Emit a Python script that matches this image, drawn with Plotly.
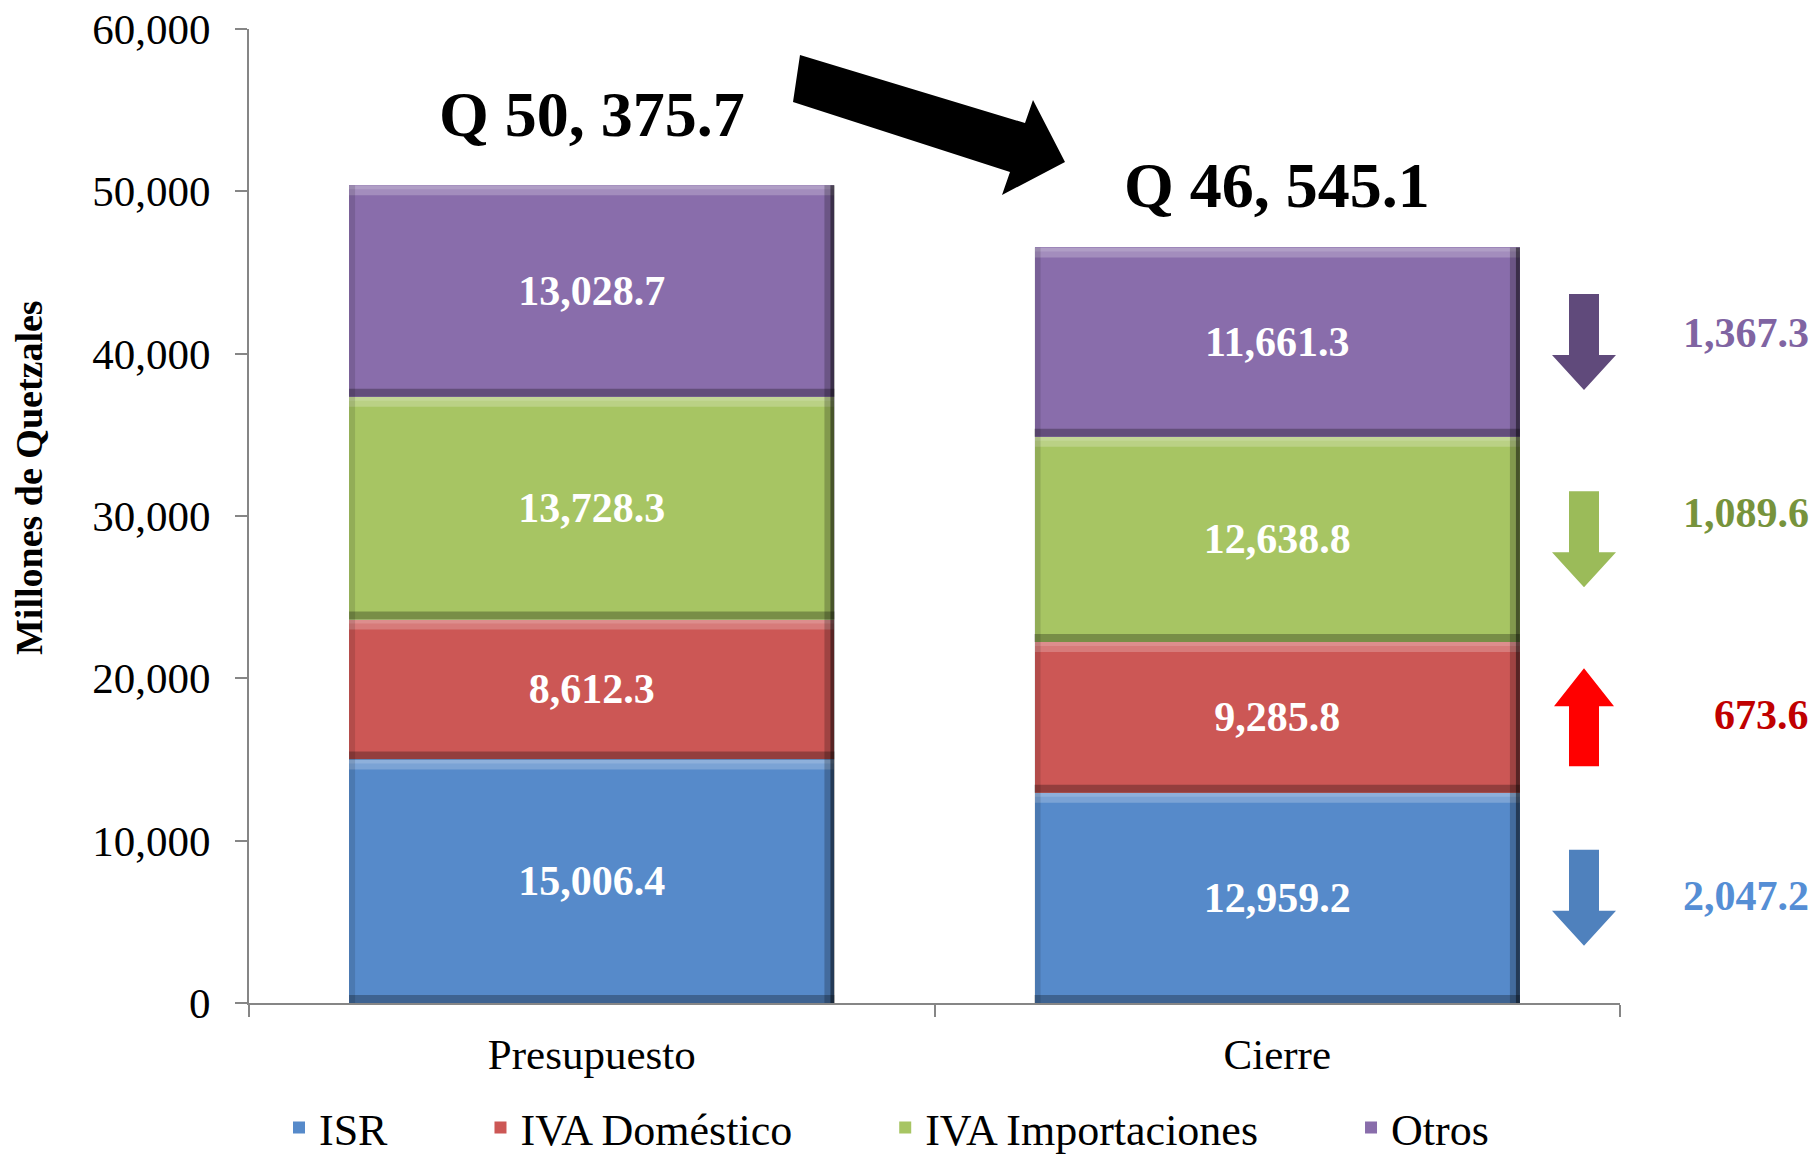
import plotly.graph_objects as go

# ---------------- data ----------------
categories = ["Presupuesto", "Cierre"]
series_names = ["ISR", "IVA Doméstico", "IVA Importaciones", "Otros"]
isr = [15006.4, 12959.2]
iva_domestico = [8612.3, 9285.8]
iva_importaciones = [13728.3, 12638.8]
otros = [13028.7, 11661.3]
# change Presupuesto -> Cierre as printed on the chart (ISR, IVA Dom., IVA Imp., Otros)
change_values = [2047.2, 673.6, 1089.6, 1367.3]
change_up = [False, True, False, False]
y_ticks = [0, 10000, 20000, 30000, 40000, 50000, 60000]
y_title = "Millones de Quetzales"

# ---------------- styles ----------------
FONT = "Liberation Serif, Times New Roman, serif"
bar_colors = ["#568ACA", "#CC5755", "#A7C563", "#896DAB"]
diff_text_colors = ["#558ED5", "#C00000", "#77933C", "#8064A2"]
arrow_colors = ["#4F81BD", "#FF0000", "#9BBB59", "#604A7B"]
label_yshift = [2, 2, 26, 9]
legend_pad = "\u00a0" * 8
BARGAP = 0.292
HALF_W = (1 - BARGAP) / 2

# the page body has an 8px margin: figure is 8px smaller to fit the window
FIG_W, FIG_H = 1809, 1146
M_L, M_T, M_R, M_B = 241, 21, 197, 151
plot_w = FIG_W - M_L - M_R
plot_h = FIG_H - M_T - M_B

series = [isr, iva_domestico, iva_importaciones, otros]

fig = go.Figure()
for i, (name, vals) in enumerate(zip(series_names, series)):
    fig.add_trace(go.Bar(
        x=categories, y=vals,
        name=name + (legend_pad if i < len(series) - 1 else ""),
        marker=dict(color=bar_colors[i], line=dict(width=0)),
        texttemplate="%{y:,.1f}",
        textposition="inside",
        insidetextanchor="middle",
        textfont=dict(family=FONT, size=42, color="white", weight="bold"),
        hoverinfo="skip",
    ))

# bevel effect on each stacked segment (light top, dark bottom/right)
for j in range(len(categories)):
    lo = 0.0
    for s in series:
        hi = lo + s[j]
        common = dict(type="rect", xref="x", yref="y", line=dict(width=0), layer="above")
        fig.add_shape(**common, x0=j - HALF_W, x1=j + HALF_W,
                      ysizemode="pixel", yanchor=hi, y0=-10, y1=0,
                      fillcolor="rgba(255,255,255,0.22)")
        fig.add_shape(**common, x0=j - HALF_W, x1=j + HALF_W,
                      ysizemode="pixel", yanchor=hi, y0=-4, y1=0,
                      fillcolor="rgba(255,255,255,0.15)")
        fig.add_shape(**common, x0=j - HALF_W, x1=j + HALF_W,
                      ysizemode="pixel", yanchor=lo, y0=0, y1=8,
                      fillcolor="rgba(0,0,0,0.28)")
        fig.add_shape(**common, y0=lo, y1=hi,
                      xsizemode="pixel", xanchor=j + HALF_W, x0=-10, x1=0,
                      fillcolor="rgba(0,0,0,0.22)")
        fig.add_shape(**common, y0=lo, y1=hi,
                      xsizemode="pixel", xanchor=j + HALF_W, x0=-4, x1=0,
                      fillcolor="rgba(0,0,0,0.45)")
        fig.add_shape(**common, y0=lo, y1=hi,
                      xsizemode="pixel", xanchor=j - HALF_W, x0=0, x1=6,
                      fillcolor="rgba(0,0,0,0.12)")
        lo = hi

# totals above bars
totals = [sum(s[j] for s in series) for j in range(len(categories))]
total_shift = [71, 62]
for j, cat in enumerate(categories):
    txt = "Q " + f"{totals[j]:,.1f}".replace(",", ", ")
    fig.add_annotation(
        x=cat, y=totals[j], xref="x", yref="y", yshift=total_shift[j],
        text=txt, showarrow=False, yanchor="middle",
        font=dict(family=FONT, size=64, color="black", weight="bold"),
    )

# differences between Presupuesto and Cierre, with arrows
arrow_x = 1335 / plot_w
label_x = 1562 / plot_w
cum = 0.0
for i, s in enumerate(series):
    lo = cum
    cum += s[1]
    mid = (lo + cum) / 2
    fig.add_annotation(
        x=label_x, y=mid, xref="paper", yref="y", yshift=label_yshift[i],
        text=f"{change_values[i]:,.1f}", showarrow=False, xanchor="right", yanchor="middle",
        font=dict(family=FONT, size=42, color=diff_text_colors[i], weight="bold"),
    )
    if not change_up[i]:
        path = "M -15 48 L 15 48 L 15 -13 L 32 -13 L 0 -48 L -32 -13 L -15 -13 Z"
    else:
        path = "M -15 -49 L 15 -49 L 15 11 L 30 11 L 0 49 L -30 11 L -15 11 Z"
    fig.add_shape(
        type="path", path=path,
        xref="paper", yref="y", xsizemode="pixel", ysizemode="pixel",
        xanchor=arrow_x, yanchor=mid,
        fillcolor=arrow_colors[i], line=dict(width=0),
    )

# big black arrow between the totals (pixels relative to top-left of plot area)
fig.add_shape(
    type="path",
    path="M 551 -26 L 776 -94 L 784 -71 L 816 -133 L 753 -166 L 761 -143 L 544 -73 Z",
    xref="paper", yref="paper", xsizemode="pixel", ysizemode="pixel",
    xanchor=0, yanchor=1, fillcolor="black", line=dict(width=0),
)

# y-axis title (placed a little above the axis middle, as in the original)
fig.add_annotation(
    x=-220 / plot_w, y=1 - 449 / plot_h, xref="paper", yref="paper",
    text=y_title, textangle=-90, showarrow=False, xanchor="center", yanchor="middle",
    font=dict(family=FONT, size=38, color="black", weight="bold"),
)

fig.update_layout(
    width=FIG_W, height=FIG_H, autosize=False,
    margin=dict(l=M_L, r=M_R, t=M_T, b=M_B, autoexpand=False),
    barmode="stack", bargap=BARGAP,
    plot_bgcolor="white", paper_bgcolor="white",
    font=dict(family=FONT, color="black"),
    showlegend=True,
    legend=dict(
        orientation="h", xref="container", yref="container",
        x=271 / FIG_W, xanchor="left", y=1 - 1120 / FIG_H, yanchor="middle",
        font=dict(family=FONT, size=44, color="black"), traceorder="normal",
        bgcolor="rgba(0,0,0,0)",
    ),
)
fig.update_xaxes(
    type="category", range=[-0.5, 1.5], automargin=False,
    showline=True, linecolor="#868686", linewidth=2,
    ticks="outside", tickson="boundaries", ticklen=12, tickcolor="#868686", tickwidth=2,
    tickfont=dict(family=FONT, size=43, color="black"),
    ticklabelstandoff=12,
    showgrid=False, zeroline=False,
)
fig.update_yaxes(
    range=[0, 60000], tickvals=y_ticks, tickformat=",", automargin=False,
    ticklabeloverflow="allow",
    showline=True, linecolor="#868686", linewidth=2,
    ticks="outside", ticklen=12, tickcolor="#868686", tickwidth=2,
    tickfont=dict(family=FONT, size=43, color="black"),
    ticklabelstandoff=16,
    showgrid=False, zeroline=False,
)

fig.write_html("out.html")
